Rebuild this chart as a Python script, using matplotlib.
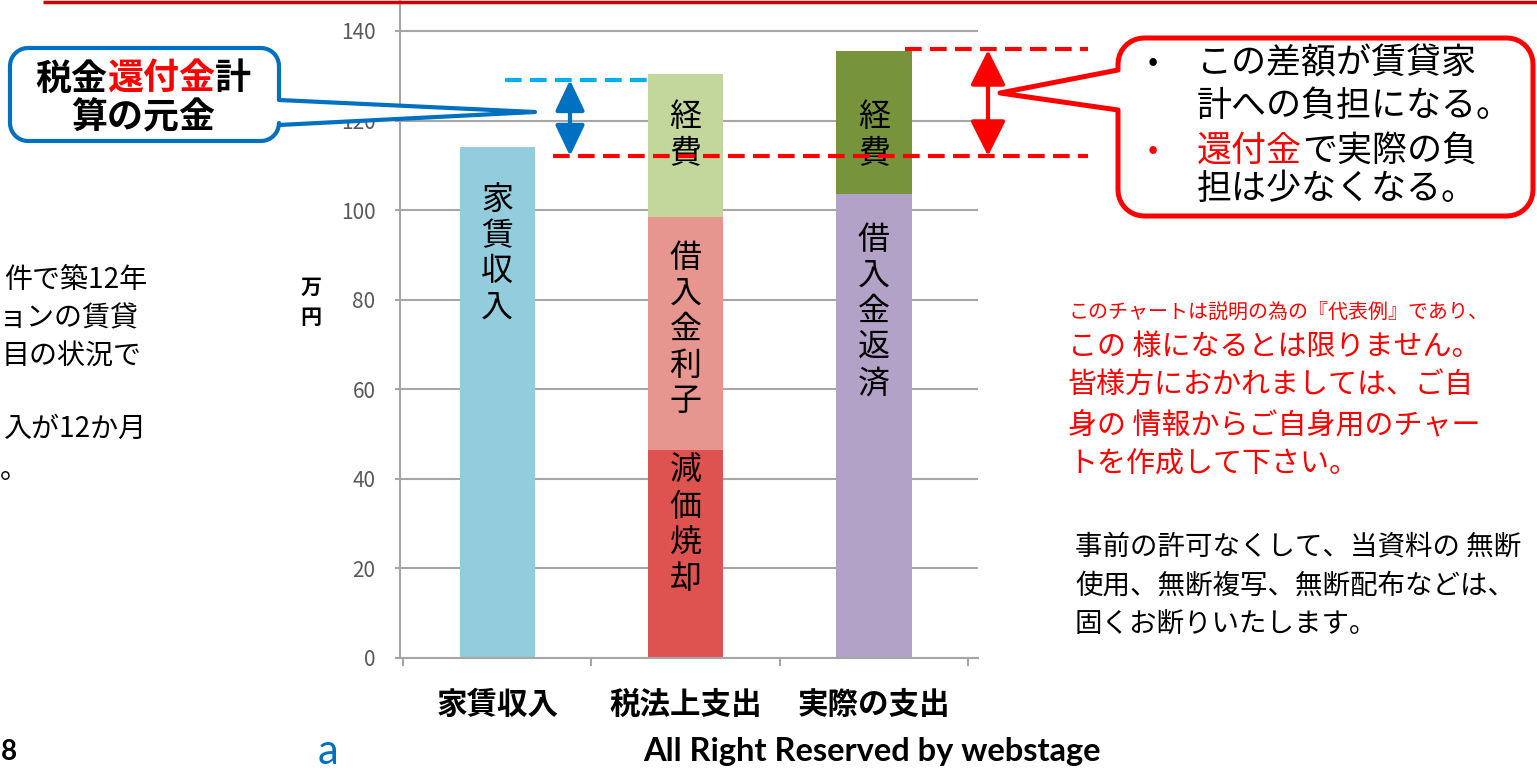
import matplotlib
matplotlib.use('Agg')
import matplotlib.pyplot as plt
from matplotlib.patches import Polygon, FancyArrowPatch
import numpy as np

plt.rcParams['font.family'] = ['Noto Sans CJK JP', 'DejaVu Sans']

# ---------------- data ----------------
categories = ['家賃収入', '税法上支出', '実際の支出']
rent_income = [114.0, 0.0, 0.0]
depreciation = [0.0, 46.5, 0.0]
loan_interest = [0.0, 52.0, 0.0]
expenses_tax = [0.0, 32.0, 0.0]
loan_repayment = [0.0, 0.0, 103.5]
expenses_actual = [0.0, 0.0, 32.0]
yticks = [0, 20, 40, 60, 80, 100, 120, 140]

segment_names = ['家賃収入', '減価焼却', '借入金利子', '経費', '借入金返済', '経費']
segment_values = [rent_income, depreciation, loan_interest, expenses_tax,
                  loan_repayment, expenses_actual]

# ---------------- styles / layout ----------------
seg_colors = ['#93CDDD', '#DE5250', '#E6958F', '#C3D69B', '#B2A2C7', '#77933C']
label_first_char_y = [102.3, 41.7, 89.3, 120.8, 93.3, 120.8]
char_pitch = 8.0

W, H = 1537, 774
fig = plt.figure(figsize=(W / 100, H / 100), dpi=100)
fig.patch.set_facecolor('white')

ax = fig.add_axes([400 / W, (H - 658) / H, 578 / W, 658 / H])
ax.set_xlim(-0.516, 2.553)
ax.set_ylim(0, 146.92)
x = np.arange(len(categories))
bw = 0.4
bottom = np.zeros(len(categories))
for name, vals, col, ly in zip(segment_names, segment_values, seg_colors, label_first_char_y):
    vals = np.array(vals)
    ax.bar(x, vals, bw, bottom=bottom, color=col, zorder=2, linewidth=0)
    idx = int(np.argmax(vals))
    for i, ch in enumerate(name):
        ax.text(x[idx], ly - i * char_pitch, ch, ha='center', va='center',
                fontsize=23, color='black', zorder=4)
    bottom = bottom + vals

gcol = '#A6A6A6'
ax.set_yticks(yticks)
ax.yaxis.grid(True, color=gcol, lw=1.5, zorder=0)
ax.set_axisbelow(True)
for s in ['top', 'right']:
    ax.spines[s].set_visible(False)
for s in ['left', 'bottom']:
    ax.spines[s].set_color(gcol)
    ax.spines[s].set_linewidth(1.5)
ax.tick_params(axis='y', length=3.6, width=1.5, color=gcol, labelcolor='#595959',
               labelsize=15, pad=14)
ax.set_xticks(x)
ax.set_xticklabels(categories, fontsize=22, fontweight='bold')
ax.tick_params(axis='x', which='major', length=0, pad=22)
ax.set_xticks([-0.5, 0.5, 1.5, 2.5], minor=True)
ax.tick_params(axis='x', which='minor', length=5.8, width=1.5, color=gcol)

# ---------------- overlay in pixel coords ----------------
ov = fig.add_axes([0, 0, 1, 1], zorder=5)
ov.set_xlim(0, W)
ov.set_ylim(H, 0)
ov.axis('off')
ov.patch.set_alpha(0)


def P(px):
    return px * 0.72


def arc(cx, cy, r, a0, a1, n=10):
    t = np.radians(np.linspace(a0, a1, n))
    return list(zip(cx + r * np.cos(t), cy + r * np.sin(t)))


def callout(x0, y0, x1, y1, r, side, base_a, base_b, tip):
    pts = []
    pts += arc(x0 + r, y0 + r, r, 180, 270)
    pts += arc(x1 - r, y0 + r, r, 270, 360)
    if side == 'right':
        pts += [(x1, base_a), tip, (x1, base_b)]
    pts += arc(x1 - r, y1 - r, r, 0, 90)
    pts += arc(x0 + r, y1 - r, r, 90, 180)
    if side == 'left':
        pts += [(x0, base_b), tip, (x0, base_a)]
    return pts


def seg_text(x0, y, segs, px, weight='normal'):
    cx = x0
    for s, c in segs:
        ov.text(cx, y, s, fontsize=P(px), color=c, ha='left', va='center',
                fontweight=weight)
        cx += len(s) * px


RED = '#FF0000'
BLUE = '#0070C0'

# top red line
ov.plot([43, W], [1.5, 1.5], color='#D00000', lw=2.5, solid_capstyle='butt')

# dashed guide lines
ov.plot([505, 655], [80, 80], color='#00B0F0', lw=3, ls=(0, (4, 2)), solid_capstyle='butt')
ov.plot([553, 1088], [156, 156], color=RED, lw=3, ls=(0, (4, 2)), solid_capstyle='butt')
ov.plot([905, 1088], [49, 49], color=RED, lw=3, ls=(0, (4, 2)), solid_capstyle='butt')

# double arrows
ov.add_patch(FancyArrowPatch((570, 80), (570, 156),
                             arrowstyle='<|-|>,head_length=1.05,head_width=0.5',
                             mutation_scale=18, color=BLUE, lw=3,
                             shrinkA=0, shrinkB=0))
ov.add_patch(FancyArrowPatch((988, 50), (988, 156),
                             arrowstyle='<|-|>,head_length=1.2,head_width=0.6',
                             mutation_scale=18, color=RED, lw=3,
                             shrinkA=0, shrinkB=0))

# blue callout
ov.add_patch(Polygon(callout(10, 48, 279, 141, 18, 'right', 100, 125, (535, 112)),
                     closed=True, facecolor='white', edgecolor=BLUE, lw=3,
                     joinstyle='round'))
seg_text(35, 79, [('税金', 'black'), ('還付金', RED), ('計', 'black')], 36, 'bold')
ov.text(143, 118, '算の元金', fontsize=P(36), ha='center', va='center', fontweight='bold')

# red callout
ov.add_patch(Polygon(callout(1118, 38, 1533, 216, 26, 'left', 70, 110, (1000, 93)),
                     closed=True, facecolor='white', edgecolor=RED, lw=3.6,
                     joinstyle='round'))
ov.text(1153, 63, '•', fontsize=P(30), ha='center', va='center', color='black')
seg_text(1197, 63, [('この差額が賃貸家', 'black')], 35)
seg_text(1197, 106, [('計への負担になる。', 'black')], 35)
ov.text(1153, 151, '•', fontsize=P(30), ha='center', va='center', color=RED)
seg_text(1197, 151, [('還付金', RED), ('で実際の負', 'black')], 35)
seg_text(1197, 189, [('担は少なくなる。', 'black')], 35)

# y unit
ov.text(311, 287, '万', fontsize=P(21), ha='center', va='center', fontweight='bold')
ov.text(311, 317, '円', fontsize=P(21), ha='center', va='center', fontweight='bold')

# left (cut) text
left_lines = [('件で築12年', 147, 280), ('ョンの賃貸', 138, 318), ('目の状況で', 142, 357),
              ('入が12か月', 147, 429), ('。', 28, 470)]
for s, xe, yc in left_lines:
    ov.text(xe, yc, s, fontsize=P(28), ha='right', va='center', color='black')

# red disclaimer
ov.text(1068, 313, 'このチャートは説明の為の『代表例』であり、', fontsize=P(20),
        ha='left', va='center', color=RED)
for s, yc in [('この 様になるとは限りません。', 347), ('皆様方におかれましては、ご自', 385),
              ('身の 情報からご自身用のチャー', 426), ('トを作成して下さい。', 464)]:
    ov.text(1068, yc, s, fontsize=P(29), ha='left', va='center', color=RED)

# black notice
for s, yc in [('事前の許可なくして、当資料の 無断', 547), ('使用、無断複写、無断配布などは、', 586),
              ('固くお断りいたします。', 625)]:
    ov.text(1075, yc, s, fontsize=P(27.5), ha='left', va='center', color='black')

# footer
ov.text(1, 752, '8', fontsize=20, ha='left', va='center', fontweight='bold',
        family=['Lato', 'DejaVu Sans'])
ov.text(328, 752, 'a', fontsize=30, ha='center', va='center', color=BLUE,
        family=['Lato', 'DejaVu Sans'])
ov.text(872, 752, 'All Right Reserved by webstage', fontsize=23.5, ha='center',
        va='center', fontweight='bold', family=['Lato', 'DejaVu Sans'])

fig.savefig('out.png', dpi=100, facecolor='white')
